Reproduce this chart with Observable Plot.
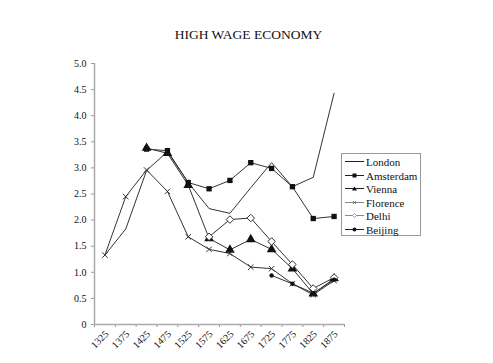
<!DOCTYPE html>
<html>
<head>
<meta charset="utf-8">
<script src="https://cdn.jsdelivr.net/npm/d3@7"></script>
<script src="https://cdn.jsdelivr.net/npm/@observablehq/plot@0.6"></script>
<style>
  html, body { margin: 0; padding: 0; background: #fff; }
  #wrap { position: relative; width: 493px; height: 363px; overflow: hidden; }
  #chart svg, #chart svg text { font-family: "Liberation Serif", serif !important; }
  #title { position: absolute; left: 2px; top: 27px; width: 493px; text-align: center;
    font-family: "Liberation Serif", serif; font-size: 13.5px; line-height: 16px; color: #111; }
  #legend { position: absolute; left: 341px; top: 153px; width: 78px; height: 81px;
    border: 1px solid #999; background: #fff; font-family: "Liberation Serif", serif;
    font-size: 11px; color: #111; }
  .row { position: absolute; left: 0; height: 14px; line-height: 14px; white-space: nowrap; }
  .row svg { position: absolute; left: 3px; top: 2px; }
  .row span { position: absolute; left: 24px; top: 0; }
</style>
</head>
<body>
<div id="wrap">
  <div id="chart"></div>
  <div id="title">HIGH WAGE ECONOMY</div>
  <div id="legend"></div>
</div>
<script>
const years = [1325, 1375, 1425, 1475, 1525, 1575, 1625, 1675, 1725, 1775, 1825, 1875];
const london    = [1.33, 1.83, 2.95, 3.31, 2.72, 2.22, 2.13, 2.62, 3.10, 2.64, 2.82, 4.43];
const amsterdam = [null, null, 3.36, 3.33, 2.72, 2.60, 2.76, 3.10, 2.99, 2.64, 2.03, 2.07];
const vienna    = [null, null, 3.38, 3.28, 2.67, 1.65, 1.43, 1.63, 1.44, 1.07, 0.59, 0.88];
const florence  = [1.33, 2.45, 2.96, 2.55, 1.68, 1.44, 1.36, 1.10, 1.07, 0.78, 0.57, 0.84];
const delhi     = [null, null, null, null, null, 1.68, 2.01, 2.04, 1.59, 1.15, 0.69, 0.90];
const beijing   = [null, null, null, null, null, null, null, null, 0.94, 0.78, 0.60, 0.86];
const seriesNames = ["London", "Amsterdam", "Vienna", "Florence", "Delhi", "Beijing"];
const seriesValues = [london, amsterdam, vienna, florence, delhi, beijing];
const yTicks = [0, 0.5, 1, 1.5, 2, 2.5, 3, 3.5, 4, 4.5, 5];
const yearEdges = [1300, 1350, 1400, 1450, 1500, 1550, 1600, 1650, 1700, 1750, 1800, 1850, 1900];

const data = [];
seriesNames.forEach((s, i) => {
  seriesValues[i].forEach((v, j) => {
    if (v != null) data.push({series: s, year: years[j], value: v});
  });
});
const of = s => data.filter(d => d.series === s);

const ink = "#333";
const chart = Plot.plot({
  width: 493,
  height: 363,
  marginTop: 63,
  marginBottom: 39,
  marginLeft: 94,
  marginRight: 149,
  style: {fontFamily: "Liberation Serif, serif", fontSize: "10px", background: "transparent"},
  x: {type: "linear", domain: [1300, 1900]},
  y: {domain: [0, 5]},
  marks: [
    Plot.axisY({ticks: yTicks, tickFormat: d => d === 0 ? "0" : d.toFixed(1), tickSize: 3, tickPadding: 5, stroke: "#999", fill: "#111", label: null}),
    Plot.axisX({ticks: yearEdges, tickFormat: () => "", tickSize: 3, stroke: "#999", label: null}),
    Plot.axisX({ticks: years, tickFormat: d => String(d), tickSize: 0, tickPadding: 5, tickRotate: -45, dx: 2, dy: 3, fill: "#111", label: null}),
    Plot.ruleX([1300], {y1: 0, y2: 5, stroke: "#aaa", strokeWidth: 1.5}),
    Plot.ruleY([0], {x1: 1300, x2: 1900, stroke: "#aaa", strokeWidth: 1.5}),
    Plot.line(data, {x: "year", y: "value", z: "series", stroke: ink, strokeWidth: 1}),
    Plot.dot(of("Amsterdam"), {x: "year", y: "value", symbol: "square", r: 3, fill: "#111"}),
    Plot.dot(of("Vienna"), {x: "year", y: "value", symbol: "triangle", r: 3.6, fill: "#111"}),
    Plot.dot(of("Florence"), {x: "year", y: "value", symbol: "times", r: 2.6, stroke: ink, strokeWidth: 1}),
    Plot.dot(of("Delhi"), {x: "year", y: "value", symbol: "diamond2", r: 3.4, fill: "#fff", stroke: ink, strokeWidth: 1}),
    Plot.dot(of("Beijing"), {x: "year", y: "value", symbol: "circle", r: 2.2, fill: "#111"})
  ]
});
document.getElementById("chart").appendChild(chart);

// Legend
const legendMarkers = {
  London: "",
  Amsterdam: '<rect x="7.5" y="2.5" width="4" height="4" fill="#111"/>',
  Vienna: '<path d="M9.5,2.5 L12,6.5 L7,6.5 Z" fill="#111"/>',
  Florence: '<path d="M8,3 L11,6 M11,3 L8,6" stroke="#777" stroke-width="1"/>',
  Delhi: '<path d="M9.5,2.5 L11.5,4.5 L9.5,6.5 L7.5,4.5 Z" fill="#fff" stroke="#888" stroke-width="0.8"/>',
  Beijing: '<circle cx="9.5" cy="4.5" r="2" fill="#111"/>'
};
const lineColor = {London: "#222", Amsterdam: "#222", Vienna: "#222", Florence: "#888", Delhi: "#888", Beijing: "#222"};
const legend = document.getElementById("legend");
seriesNames.forEach((s, i) => {
  const row = document.createElement("div");
  row.className = "row";
  row.style.top = (1 + i * 13.6) + "px";
  row.innerHTML = `<svg width="20" height="9"><line x1="0" y1="4.5" x2="19" y2="4.5" stroke="${lineColor[s]}" stroke-width="1"/>${legendMarkers[s]}</svg><span>${s}</span>`;
  legend.appendChild(row);
});
</script>
</body>
</html>
